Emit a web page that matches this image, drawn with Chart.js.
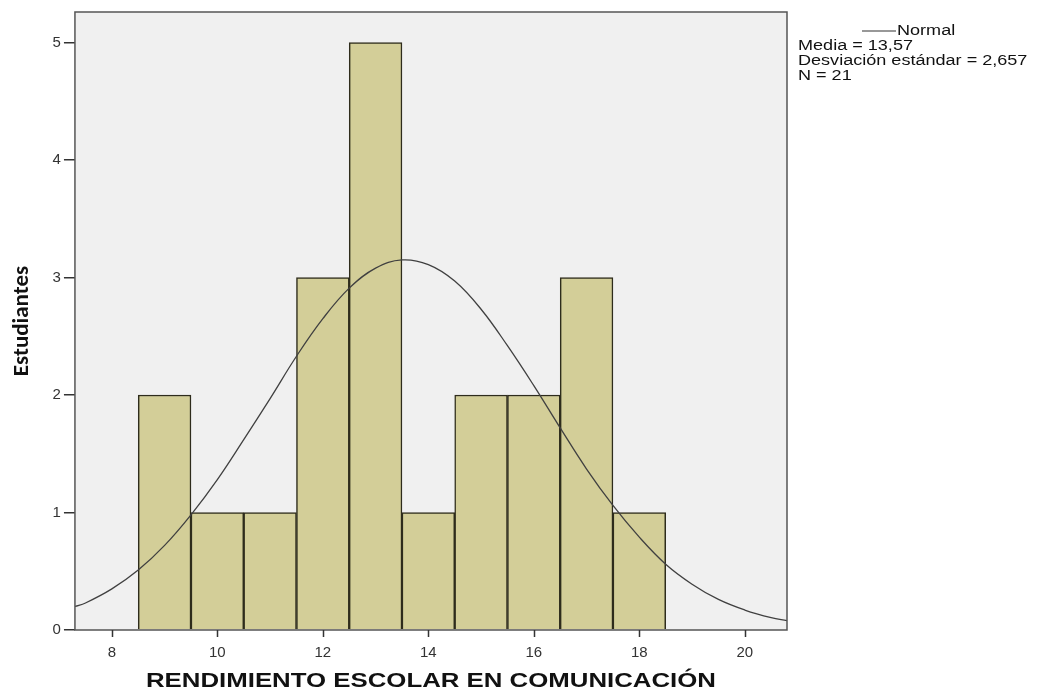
<!DOCTYPE html>
<html>
<head>
<meta charset="utf-8">
<script src="https://cdn.jsdelivr.net/npm/chart.js@4"></script>
<style>
  body { margin: 0; background: #ffffff; }
  #wrap { width: 1041px; height: 693px; }
</style>
</head>
<body>
<div id="wrap"><canvas id="chart" width="1041" height="693"></canvas></div>
<script>
// bin centres and counts of the histogram
const binCenters = [9, 10, 11, 12, 13, 14, 15, 16, 17, 18];
const counts = [2, 1, 1, 3, 5, 1, 2, 2, 3, 1];

// normal curve
const curveX = [7.3, 7.5, 8, 8.5, 9, 9.5, 10, 10.5, 11, 11.5, 12, 12.5, 13, 13.5, 14,
  14.5, 15, 15.5, 16, 16.5, 17, 17.5, 18, 18.5, 19, 19.5, 20, 20.5, 20.8];
const curveY = [0.20, 0.23, 0.35, 0.51, 0.72, 0.98, 1.28, 1.62, 1.97, 2.33, 2.65, 2.91, 3.08, 3.15, 3.11,
  2.97, 2.73, 2.42, 2.08, 1.72, 1.37, 1.06, 0.79, 0.56, 0.39, 0.26, 0.17, 0.105, 0.08];

const xTicks = [8, 10, 12, 14, 16, 18, 20];
const yTicks = [0, 1, 2, 3, 4, 5];

const xTitle = "RENDIMIENTO ESCOLAR EN COMUNICACIÓN";
const statsLines = ["Media = 13,57", "Desviación estándar = 2,657", "N = 21"];

// the source picture is stretched sideways, so the free text is too
const STRETCH = 1.29;

function stretchedText(ctx, text, x, y) {
  ctx.save();
  ctx.translate(x, y);
  ctx.scale(STRETCH, 1);
  ctx.fillText(text, 0, 0);
  ctx.restore();
}

// grey plot background, box round the plot, x ticks, x title and legend text
const plotBox = {
  id: "plotBox",
  beforeDatasetsDraw(chart) {
    const { ctx, chartArea: a } = chart;
    ctx.save();
    ctx.fillStyle = "#f0f0f0";
    ctx.fillRect(a.left, a.top, a.right - a.left, a.bottom - a.top);
    ctx.restore();
  },
  afterDraw(chart) {
    const { ctx, chartArea: a } = chart;
    const xs = chart.scales.x;
    ctx.save();
    ctx.strokeStyle = "#555555";
    ctx.lineWidth = 1.5;
    ctx.strokeRect(a.left, a.top, a.right - a.left, a.bottom - a.top);

    // x tick marks
    ctx.strokeStyle = "#333333";
    ctx.beginPath();
    xTicks.forEach((v) => {
      const px = Math.round(xs.getPixelForValue(v)) + 0.5;
      ctx.moveTo(px, a.bottom);
      ctx.lineTo(px, a.bottom + 7);
    });
    ctx.stroke();

    // x axis title
    ctx.fillStyle = "#111111";
    ctx.font = "bold 20px 'Liberation Sans', Arial, sans-serif";
    ctx.textBaseline = "middle";
    ctx.textAlign = "center";
    stretchedText(ctx, xTitle, (a.left + a.right) / 2, 681);

    // legend / stats
    ctx.textAlign = "left";
    ctx.font = "14px 'Liberation Sans', Arial, sans-serif";
    ctx.beginPath();
    ctx.strokeStyle = "#333333";
    ctx.lineWidth = 1.2;
    ctx.moveTo(862, 31);
    ctx.lineTo(896, 31);
    ctx.stroke();
    stretchedText(ctx, "Normal", 897, 31);
    statsLines.forEach((t, i) => stretchedText(ctx, t, 798, 46 + i * 15));
    ctx.restore();
  },
};

new Chart(document.getElementById("chart"), {
  data: {
    datasets: [
      {
        type: "line",
        data: curveX.map((x, i) => ({ x: x, y: curveY[i] })),
        borderColor: "#404040",
        borderWidth: 1.3,
        pointRadius: 0,
        tension: 0.4,
        fill: false,
        order: 0,
      },
      {
        type: "bar",
        data: binCenters.map((x, i) => ({ x: x, y: counts[i] })),
        backgroundColor: "#d3ce98",
        borderColor: "#2e2c1c",
        borderWidth: 1.5,
        barPercentage: 1,
        categoryPercentage: 1,
        order: 1,
      },
    ],
  },
  options: {
    responsive: false,
    animation: false,
    layout: { padding: { left: 4, right: 254, top: 6, bottom: 24 } },
    plugins: {
      legend: { display: false },
      tooltip: { enabled: false },
    },
    scales: {
      x: {
        type: "linear",
        offset: false,
        min: 7.3,
        max: 20.8,
        afterBuildTicks(scale) {
          scale.ticks = xTicks.map((v) => ({ value: v }));
        },
        grid: { display: true, offset: false, drawOnChartArea: false, drawTicks: true, tickLength: 7, color: "rgba(0,0,0,0)" },
        border: { display: false },
        ticks: { color: "#333333", font: { size: 15, family: "'Liberation Sans', Arial" }, padding: 7 },
      },
      y: {
        min: 0,
        max: 5.26,
        afterBuildTicks(scale) {
          scale.ticks = yTicks.map((v) => ({ value: v }));
        },
        grid: { display: true, drawOnChartArea: false, tickLength: 11, color: "#333333", lineWidth: 1.5 },
        border: { display: false },
        ticks: { color: "#333333", font: { size: 15, family: "'Liberation Sans', Arial" }, padding: 3 },
        title: {
          display: true,
          text: "Estudiantes",
          color: "#111111",
          font: { size: 23, weight: "bold", family: "Carlito, 'Liberation Sans', Arial" },
          padding: { bottom: 14 },
        },
      },
    },
  },
  plugins: [plotBox],
});
</script>
</body>
</html>
